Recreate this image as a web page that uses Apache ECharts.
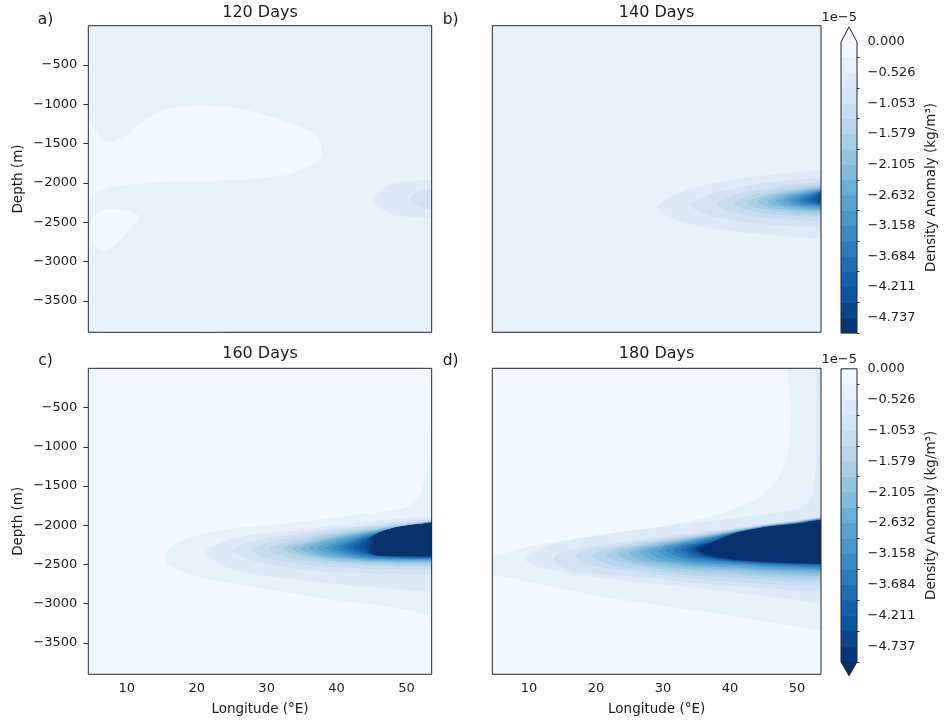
<!DOCTYPE html>
<html><head><meta charset="utf-8">
<script src="https://cdn.jsdelivr.net/npm/echarts@6/dist/echarts.min.js"></script>
<style>html,body{margin:0;padding:0;background:#fff}#c{width:947px;height:721px}</style>
</head><body><div id="c"></div>
<script>
// ---------------- data ----------------
const lonMin = 4.5, lonMax = 53.6, depthMin = -3900, depthMax = 0;
const lonTicks = [10, 20, 30, 40, 50];
const depthTicks = [-3500, -3000, -2500, -2000, -1500, -1000, -500];
const panelTitles = ['120 Days', '140 Days', '160 Days', '180 Days'];
const panelTags = ['a)', 'b)', 'c)', 'd)'];
// contour levels (units 1e-5 kg/m^3)
const levels = [-5.000, -4.737, -4.474, -4.211, -3.947, -3.684, -3.421, -3.158, -2.895, -2.632,
  -2.368, -2.105, -1.842, -1.579, -1.316, -1.053, -0.789, -0.526, -0.263, 0.000];
const cbTickValues = [0.000, -0.526, -1.053, -1.579, -2.105, -2.632, -3.158, -3.684, -4.211, -4.737];
const cbMinorTickValues = [-5.000, -4.474, -3.947, -3.421, -2.895, -2.368, -1.842, -1.316, -0.789, -0.263];
// band k = values between -(k+1)*0.263 and -k*0.263 ; 19 = below -5 ; -1 = above 0
const bandColors = ['#f2f8fd', '#e7f1fa', '#ddeaf7', '#d3e3f3', '#c8ddf0', '#b9d6eb', '#a9cfe5', '#96c6df',
  '#81badb', '#6baed6', '#5aa2cf', '#4996c8', '#3989c2', '#2b7bba', '#1e6eb2', '#1460a8', '#09539d', '#08458a', '#083775'];
const overColor = '#f7fbff', underColor = '#08306b';
const backgroundBand = [1, 1, 0, 0];

const contours120 = [
  {b: 0, ring: [[2,-1220],[4.5,-1220],[5.5,-1330],[6.5,-1440],[7.3,-1475],[8.5,-1450],[10.3,-1370],[12.4,-1210],[15.3,-1075],[19,-1022],[21,-1014],[25.8,-1050],[30.5,-1155],[35,-1290],[37.2,-1420],[37.9,-1580],[37.5,-1700],[36.8,-1750],[34,-1877],[32.5,-1905],[25.4,-1964],[15.8,-1985],[7.7,-2050],[5.5,-2120],[4.5,-2175],[2,-2175]]},
  {b: 0, ring: [[5.0,-2480],[5.8,-2380],[7,-2340],[9,-2340],[10.5,-2365],[11.9,-2430],[11,-2530],[9.5,-2680],[8,-2810],[6.8,-2855],[5.6,-2820],[5.0,-2700]]},
  {b: 0, ring: [[5,-3930],[5.5,-3895],[7,-3878],[12,-3872],[20,-3876],[25,-3895],[26,-3930]]},
  {b: 2, tip: [45.3,-2217], top: [[46.5,-2080],[48,-2010],[50,-1980],[53.6,-1963]], bot: [[46.5,-2340],[48,-2400],[50,-2430],[53.6,-2450]]},
  {b: 3, tip: [50.6,-2200], top: [[51.5,-2120],[53.6,-2070]], bot: [[51.5,-2290],[53.6,-2340]]}
];

const contours140 = [
  {b: 2, tip: [29.1,-2300], top: [[30,-2235],[31.1,-2175],[33.6,-2090],[38.6,-1985],[43.6,-1921],[48,-1875],[51.1,-1855],[53.6,-1836]], bot: [[30,-2380],[31.1,-2450],[33.6,-2515],[36.1,-2556],[41.1,-2620],[46.1,-2662],[50,-2690],[53.6,-2705]]},
  {b: 3, tip: [34.1,-2280], top: [[35.5,-2200],[38,-2120],[42,-2045],[46,-1995],[50,-1960],[53.6,-1940]], bot: [[35.5,-2370],[38,-2440],[42,-2500],[46,-2530],[50,-2550],[53.6,-2560]]},
  {b: 4, tip: [38.1,-2265], top: [[39.5,-2195],[42,-2125],[46,-2060],[50,-2015],[53.6,-1990]], bot: [[39.5,-2345],[42,-2400],[46,-2445],[50,-2470],[53.6,-2480]]},
  {b: 5, tip: [40.6,-2255], top: [[42,-2190],[44,-2140],[47,-2080],[50,-2045],[53.6,-2020]], bot: [[42,-2330],[44,-2370],[47,-2405],[50,-2422],[53.6,-2430]]},
  {b: 6, tip: [42.6,-2245], top: [[44,-2185],[46,-2140],[49,-2090],[53.6,-2040]], bot: [[44,-2315],[46,-2350],[49,-2383],[53.6,-2400]]},
  {b: 7, tip: [44.2,-2240], top: [[45.5,-2180],[47.5,-2135],[50,-2090],[53.6,-2055]], bot: [[45.5,-2305],[47.5,-2335],[50,-2360],[53.6,-2375]]},
  {b: 8, tip: [45.6,-2235], top: [[46.8,-2178],[48.5,-2135],[51,-2095],[53.6,-2065]], bot: [[46.8,-2295],[48.5,-2322],[51,-2343],[53.6,-2355]]},
  {b: 9, tip: [46.8,-2230], top: [[48,-2175],[49.5,-2138],[51.5,-2103],[53.6,-2075]], bot: [[48,-2288],[49.5,-2310],[51.5,-2328],[53.6,-2340]]},
  {b: 10, tip: [47.9,-2225], top: [[49,-2172],[50.5,-2140],[52,-2110],[53.6,-2085]], bot: [[49,-2280],[50.5,-2300],[52,-2314],[53.6,-2325]]},
  {b: 11, tip: [48.8,-2222], top: [[49.8,-2172],[51.2,-2142],[53.6,-2092]], bot: [[49.8,-2272],[51.2,-2290],[53.6,-2310]]},
  {b: 12, tip: [49.7,-2219], top: [[50.6,-2172],[52,-2140],[53.6,-2100]], bot: [[50.6,-2265],[52,-2282],[53.6,-2297]]},
  {b: 13, tip: [50.5,-2216], top: [[51.4,-2170],[52.6,-2140],[53.6,-2108]], bot: [[51.4,-2258],[52.6,-2275],[53.6,-2287]]},
  {b: 14, tip: [51.3,-2213], top: [[52.1,-2170],[53.6,-2116]], bot: [[52.1,-2252],[53.6,-2277]]},
  {b: 15, tip: [52.1,-2210], top: [[52.8,-2172],[53.6,-2125]], bot: [[52.8,-2245],[53.6,-2268]]},
  {b: 16, tip: [52.9,-2207], top: [[53.6,-2135]], bot: [[53.6,-2258]]}
];

const contours160 = [
  {b: 1, ring: [[56,-780],[53.45,-780],[53.25,-1000],[52.95,-1250],[52.4,-1480],[51.6,-1660],[50,-1770],[45,-1840],[40,-1900],[35,-1955],[30,-2000],[25,-2045],[21,-2110],[18,-2190],[16.3,-2280],[15.5,-2400],[16,-2500],[17.5,-2575],[20.5,-2665],[25,-2740],[30,-2820],[35,-2890],[40,-2955],[46,-3020],[51,-3100],[53.6,-3150],[56,-3150]]},
  {b: 2, tip: [21.2,-2350], top: [[22.5,-2260],[25,-2175],[30,-2100],[35,-2060],[40,-2000],[45,-1950],[50,-1910],[53.6,-1890]], bot: [[22.5,-2450],[25,-2560],[30,-2650],[35,-2700],[40,-2750],[45,-2790],[50,-2825],[53.6,-2850]]},
  {b: 3, tip: [25.1,-2320], top: [[27,-2230],[30,-2170],[35,-2100],[40,-2040],[45,-1990],[50,-1945],[53.6,-1920]], bot: [[27,-2420],[30,-2490],[35,-2560],[40,-2600],[45,-2615],[50,-2620],[53.6,-2620]]},
  {b: 4, tip: [27.7,-2310], top: [[30,-2225],[35,-2130],[40,-2065],[45,-2010],[50,-1962],[53.6,-1935]], bot: [[30,-2420],[35,-2495],[40,-2535],[45,-2555],[50,-2563],[53.6,-2565]]},
  {b: 5, tip: [30.3,-2305], top: [[32,-2240],[35,-2175],[40,-2090],[45,-2030],[50,-1975],[53.6,-1945]], bot: [[32,-2385],[35,-2445],[40,-2495],[45,-2518],[50,-2527],[53.6,-2530]]},
  {b: 6, tip: [32.2,-2300], top: [[35,-2215],[40,-2110],[45,-2045],[50,-1985],[53.6,-1950]], bot: [[35,-2400],[40,-2465],[45,-2492],[50,-2502],[53.6,-2505]]},
  {b: 7, tip: [33.6,-2298], top: [[35,-2245],[40,-2130],[45,-2058],[50,-1993],[53.6,-1953]], bot: [[35,-2365],[40,-2445],[45,-2473],[50,-2483],[53.6,-2485]]},
  {b: 8, tip: [34.8,-2296], top: [[37,-2220],[40,-2150],[45,-2070],[50,-2000],[53.6,-1956]], bot: [[37,-2380],[40,-2425],[45,-2458],[50,-2468],[53.6,-2470]]},
  {b: 9, tip: [36,-2294], top: [[38,-2215],[40,-2170],[45,-2080],[50,-2007],[53.6,-1958]], bot: [[38,-2375],[40,-2405],[45,-2446],[50,-2456],[53.6,-2458]]},
  {b: 10, tip: [37.2,-2292], top: [[39,-2220],[42,-2150],[45,-2090],[50,-2014],[53.6,-1960]], bot: [[39,-2365],[42,-2410],[45,-2436],[50,-2446],[53.6,-2448]]},
  {b: 11, tip: [38.4,-2290], top: [[40,-2225],[42,-2170],[45,-2100],[50,-2020],[53.6,-1962]], bot: [[40,-2355],[42,-2395],[45,-2427],[50,-2438],[53.6,-2440]]},
  {b: 12, tip: [39.4,-2288], top: [[41,-2225],[43,-2165],[46,-2095],[50,-2027],[53.6,-1964]], bot: [[41,-2350],[43,-2390],[46,-2420],[50,-2430],[53.6,-2432]]},
  {b: 13, tip: [40.4,-2286], top: [[42,-2215],[44,-2150],[47,-2075],[50,-2028],[53.6,-1966]], bot: [[42,-2350],[44,-2390],[47,-2415],[50,-2423],[53.6,-2425]]},
  {b: 14, tip: [41.4,-2284], top: [[43,-2200],[45,-2135],[47.5,-2065],[50,-2025],[53.6,-1968]], bot: [[43,-2350],[45,-2385],[47.5,-2408],[50,-2416],[53.6,-2418]]},
  {b: 15, tip: [42.3,-2282], top: [[43.8,-2190],[45.5,-2120],[48,-2055],[50,-2020],[53.6,-1970]], bot: [[43.8,-2355],[45.5,-2382],[48,-2402],[50,-2409],[53.6,-2412]]},
  {b: 16, tip: [43.2,-2280], top: [[44.5,-2170],[46,-2100],[48,-2045],[50,-2015],[53.6,-1972]], bot: [[44.5,-2360],[46,-2382],[48,-2398],[50,-2403],[53.6,-2406]]},
  {b: 17, tip: [44,-2280], top: [[45,-2150],[46.5,-2085],[48.5,-2030],[50,-2010],[53.6,-1973]], bot: [[45,-2365],[46.5,-2385],[48.5,-2395],[50,-2398],[53.6,-2400]]},
  {b: 18, tip: [44.7,-2270], top: [[45.2,-2140],[47,-2065],[49,-2020],[53.6,-1974]], bot: [[45.2,-2372],[47,-2388],[49,-2393],[53.6,-2395]]},
  {b: 19, tip: [45.3,-2260], top: [[45.7,-2120],[47.5,-2050],[50,-2005],[53.6,-1975]], bot: [[45.7,-2378],[47.5,-2388],[50,-2391],[53.6,-2393]]}
];

const contours180 = [
  {b: 1, ring: [[56,100],[49.1,100],[49.1,-500],[48.9,-900],[48.3,-1200],[47,-1420],[45,-1600],[43.6,-1680],[38.6,-1850],[31.1,-1995],[21.1,-2125],[11.1,-2253],[4.6,-2400],[2,-2420],[2,-2630],[4.6,-2636],[11.1,-2742],[21.1,-2912],[31.1,-3040],[41.1,-3167],[48,-3260],[53.6,-3337],[56,-3340]]},
  {b: 2, tip: [9.4,-2430], top: [[11.5,-2300],[16,-2190],[26,-2060],[36,-1955],[46,-1850],[51,-1765],[52.3,-1600],[52.85,-1200],[53.05,-600],[53.1,100]], bot: [[10.5,-2510],[16,-2614],[26,-2720],[36,-2806],[46,-2910],[53.6,-2997]]},
  {b: 3, tip: [13.6,-2420], top: [[16,-2320],[26,-2190],[36,-2083],[46,-1976],[50,-1935],[53.6,-1891]], bot: [[16,-2572],[26,-2657],[36,-2742],[46,-2806],[50,-2830],[53.6,-2848]]},
  {b: 4, tip: [17,-2400], top: [[18.5,-2320],[25,-2225],[30,-2168],[35,-2110],[41,-2040],[46,-1982],[50,-1942],[53.6,-1897]], bot: [[18.5,-2490],[25,-2590],[30,-2640],[35,-2685],[41,-2720],[46,-2750],[50,-2765],[53.6,-2775]]},
  {b: 5, tip: [19.5,-2390], top: [[21,-2315],[25,-2250],[30,-2185],[35,-2125],[41,-2048],[46,-1987],[50,-1947],[53.6,-1901]], bot: [[21,-2475],[25,-2545],[30,-2600],[35,-2645],[41,-2670],[46,-2700],[50,-2715],[53.6,-2725]]},
  {b: 6, tip: [21.5,-2380], top: [[23,-2310],[25,-2275],[30,-2200],[35,-2138],[41,-2055],[46,-1991],[50,-1951],[53.6,-1905]], bot: [[23,-2460],[25,-2495],[30,-2565],[35,-2605],[41,-2630],[46,-2660],[50,-2675],[53.6,-2685]]},
  {b: 7, tip: [23.3,-2370], top: [[24.8,-2305],[30,-2215],[35,-2150],[41,-2062],[46,-1995],[50,-1955],[53.6,-1909]], bot: [[24.8,-2450],[30,-2530],[35,-2572],[41,-2595],[46,-2625],[50,-2640],[53.6,-2650]]},
  {b: 8, tip: [25,-2360], top: [[26.5,-2300],[30,-2232],[35,-2160],[41,-2068],[46,-1999],[50,-1959],[53.6,-1912]], bot: [[26.5,-2440],[30,-2495],[35,-2540],[41,-2565],[46,-2595],[50,-2610],[53.6,-2620]]},
  {b: 9, tip: [26.5,-2350], top: [[28,-2290],[30,-2255],[35,-2170],[41,-2074],[46,-2002],[50,-1962],[53.6,-1915]], bot: [[28,-2430],[30,-2465],[35,-2515],[41,-2540],[46,-2568],[50,-2583],[53.6,-2593]]},
  {b: 10, tip: [28,-2340], top: [[29.5,-2280],[35,-2180],[41,-2079],[46,-2005],[50,-1965],[53.6,-1918]], bot: [[29.5,-2420],[35,-2495],[41,-2520],[46,-2547],[50,-2562],[53.6,-2572]]},
  {b: 11, tip: [29.3,-2330], top: [[30.8,-2272],[35,-2192],[41,-2083],[46,-2008],[50,-1968],[53.6,-1921]], bot: [[30.8,-2410],[35,-2475],[41,-2503],[46,-2530],[50,-2545],[53.6,-2555]]},
  {b: 12, tip: [30.5,-2322], top: [[32,-2265],[35,-2205],[41,-2087],[46,-2010],[50,-1971],[53.6,-1924]], bot: [[32,-2400],[35,-2455],[41,-2488],[46,-2515],[50,-2530],[53.6,-2540]]},
  {b: 13, tip: [31.6,-2315], top: [[33,-2260],[35,-2222],[41,-2090],[46,-2012],[50,-1974],[53.6,-1927]], bot: [[33,-2392],[35,-2430],[41,-2476],[46,-2503],[50,-2517],[53.6,-2527]]},
  {b: 14, tip: [32.6,-2310], top: [[34,-2255],[36,-2215],[41,-2093],[46,-2014],[50,-1977],[53.6,-1930]], bot: [[34,-2385],[36,-2420],[41,-2466],[46,-2492],[50,-2506],[53.6,-2515]]},
  {b: 15, tip: [33.5,-2306], top: [[34.8,-2255],[36.5,-2220],[41,-2095],[46,-2016],[50,-1980],[53.6,-1932]], bot: [[34.8,-2380],[36.5,-2415],[41,-2458],[46,-2484],[50,-2497],[53.6,-2505]]},
  {b: 16, tip: [34.2,-2303], top: [[35.4,-2255],[37,-2215],[41,-2097],[46,-2017],[50,-1982],[53.6,-1934]], bot: [[35.4,-2375],[37,-2410],[41,-2451],[46,-2477],[50,-2490],[53.6,-2497]]},
  {b: 17, tip: [34.8,-2301], top: [[35.9,-2255],[37.5,-2210],[41,-2098],[46,-2018],[50,-1983],[53.6,-1935]], bot: [[35.9,-2372],[37.5,-2408],[41,-2446],[46,-2471],[50,-2484],[53.6,-2491]]},
  {b: 18, tip: [35.2,-2300], top: [[36.2,-2255],[38,-2200],[41,-2099],[46,-2019],[50,-1984],[53.6,-1936]], bot: [[36.2,-2370],[38,-2406],[41,-2442],[46,-2467],[50,-2480],[53.6,-2489]]},
  {b: 19, tip: [35.6,-2300], top: [[36.5,-2250],[38.5,-2185],[41,-2100],[46,-2020],[50,-1985],[53.6,-1937]], bot: [[36.5,-2368],[38.5,-2405],[41,-2440],[46,-2465],[50,-2478],[53.6,-2487]]}
];

// ---------------- layout / style ----------------
const FONT = 'DejaVu Sans';
const TXT = '#1a1a1a';
const LINE = '#262626';
const OUT_RIGHT = 56;
const panels = [
  {l: 88.3, t: 25.7, w: 343.4, h: 306.6},
  {l: 492.3, t: 25.7, w: 328.7, h: 306.6},
  {l: 88.3, t: 368.3, w: 343.4, h: 306},
  {l: 492.3, t: 368.3, w: 328.7, h: 306}
];
const tagPos = [[45.5, 20], [450.7, 20], [45.5, 360.5], [450.7, 360.5]];
const colorbars = [
  {l: 841, t: 42, w: 16, h: 291, ext: 'max', offY: 17.7},
  {l: 841, t: 368.8, w: 16, h: 293, ext: 'min', offY: 359.5}
];
const contourSets = [contours120, contours140, contours160, contours180];

function bandColor(b) { return b >= 19 ? underColor : (b < 0 ? overColor : bandColors[b]); }
function ringOf(c) {
  if (c.ring) return c.ring;
  const t = c.top, bt = c.bot;
  return [[OUT_RIGHT, t[t.length - 1][1]], ...t.slice().reverse(), c.tip, ...bt, [OUT_RIGHT, bt[bt.length - 1][1]]];
}
const minus = v => (v < 0 ? '\u2212' : '') + Math.abs(v);

const grid = [], xAxis = [], yAxis = [], series = [], graphic = [];
function txt(x, y, text, size, align, rot) {
  return {type: 'text', x: x, y: y, rotation: rot || 0, silent: true,
    style: {text: text, fontSize: size, fontFamily: FONT, fill: TXT,
      align: align || 'center', verticalAlign: 'middle', textAlign: align || 'center', textVerticalAlign: 'middle'}};
}

panels.forEach((p, i) => {
  const bottomRow = i >= 2, leftCol = i % 2 === 0;
  grid.push({left: p.l, top: p.t, width: p.w, height: p.h, show: true, backgroundColor: 'transparent',
    borderColor: LINE, borderWidth: 1, z: 10});
  xAxis.push({gridIndex: i, type: 'value', min: lonMin, max: lonMax,
    axisLine: {show: false}, splitLine: {show: false},
    axisTick: {show: bottomRow, customValues: lonTicks, length: 5, lineStyle: {color: LINE, width: 1}},
    axisLabel: {show: bottomRow, customValues: lonTicks, margin: 8, color: TXT, fontFamily: FONT, fontSize: 13}});
  yAxis.push({gridIndex: i, type: 'value', min: depthMin, max: depthMax,
    axisLine: {show: false}, splitLine: {show: false},
    axisTick: {show: leftCol, customValues: depthTicks, length: 5, lineStyle: {color: LINE, width: 1}},
    axisLabel: {show: leftCol, customValues: depthTicks, margin: 11, color: TXT, fontFamily: FONT, fontSize: 13,
      formatter: v => minus(v)}});
  series.push({type: 'custom', xAxisIndex: i, yAxisIndex: i, silent: true, z: 1,
    data: [[backgroundBand[i]]],
    renderItem: (params, api) => {
      const a = api.coord([lonMin, depthMax]), b = api.coord([lonMax, depthMin]);
      return {type: 'rect', shape: {x: a[0], y: a[1], width: b[0] - a[0], height: b[1] - a[1]},
        style: {fill: bandColor(backgroundBand[i])}};
    }});
  const set = contourSets[i];
  series.push({type: 'custom', xAxisIndex: i, yAxisIndex: i, silent: true, z: 2,
    data: set.map(c => [c.b]),
    renderItem: (params, api) => {
      const c = set[params.dataIndex];
      const pts = ringOf(c).map(q => api.coord(q));
      const cs = params.coordSys;
      return {type: 'polygon', shape: {points: pts, smooth: 0.3},
        style: {fill: bandColor(c.b)},
        clipPath: {type: 'rect', shape: {x: cs.x, y: cs.y, width: cs.width, height: cs.height}}};
    }});
  graphic.push(txt(p.l + p.w / 2, p.t - (i < 2 ? 13 : 14.5), panelTitles[i], 16));
  graphic.push(txt(tagPos[i][0], tagPos[i][1], panelTags[i], 15.5));
  if (leftCol) graphic.push(txt(18.5, p.t + p.h / 2, 'Depth (m)', 13.5, 'center', Math.PI / 2));
  if (bottomRow) graphic.push(txt(p.l + p.w / 2, 709, 'Longitude (\u00B0E)', 13.5));
});

colorbars.forEach((cb, j) => {
  const gi = 4 + j;
  grid.push({left: cb.l, top: cb.t, width: cb.w, height: cb.h, show: false});
  xAxis.push({gridIndex: gi, type: 'value', min: 0, max: 1, show: false});
  const yMajor = yAxis.length;
  yAxis.push({gridIndex: gi, type: 'value', min: levels[0], max: levels[levels.length - 1], position: 'right',
    axisLine: {show: false}, splitLine: {show: false},
    axisTick: {customValues: cbTickValues, length: 4.5, lineStyle: {color: LINE, width: 1}},
    axisLabel: {customValues: cbTickValues, margin: 10.5, color: TXT, fontFamily: FONT, fontSize: 13,
      formatter: v => (v < 0 ? '\u2212' : '') + Math.abs(v).toFixed(3)}});
  yAxis.push({gridIndex: gi, type: 'value', min: levels[0], max: levels[levels.length - 1], position: 'right',
    axisLine: {show: false}, splitLine: {show: false},
    axisTick: {customValues: cbMinorTickValues, length: 2.5, lineStyle: {color: LINE, width: 1}},
    axisLabel: {show: false}});
  series.push({type: 'custom', xAxisIndex: gi, yAxisIndex: yMajor, silent: true, z: 2,
    data: levels.slice(0, -1).map((v, k) => [0.5, v]),
    renderItem: (params, api) => {
      const k = params.dataIndex;
      const a = api.coord([0, levels[k + 1]]), b = api.coord([1, levels[k]]);
      return {type: 'rect', shape: {x: a[0], y: a[1] - 0.3, width: b[0] - a[0], height: b[1] - a[1] + 0.6},
        style: {fill: bandColor(18 - k)}};
    }});
  const lo = levels[0], hi = levels[levels.length - 1];
  series.push({type: 'custom', xAxisIndex: gi, yAxisIndex: yMajor, silent: true, z: 3,
    data: [[0.5, cb.ext === 'max' ? hi : lo]],
    renderItem: (params, api) => {
      let tri, outline, fill;
      if (cb.ext === 'max') {
        tri = [[0, hi], [1, hi], [0.5, hi + 0.26]];
        outline = [[0, lo], [1, lo], [1, hi], [0.5, hi + 0.26], [0, hi], [0, lo]];
        fill = overColor;
      } else {
        tri = [[0, lo], [1, lo], [0.5, lo - 0.24]];
        outline = [[0, hi], [1, hi], [1, lo], [0.5, lo - 0.24], [0, lo], [0, hi]];
        fill = underColor;
      }
      return {type: 'group', children: [
        {type: 'polygon', shape: {points: tri.map(q => api.coord(q))}, style: {fill: fill}},
        {type: 'polyline', shape: {points: outline.map(q => api.coord(q))}, style: {fill: null, stroke: LINE, lineWidth: 1}}
      ]};
    }});
  graphic.push(txt(931, cb.t + cb.h / 2, 'Density Anomaly (kg/m\u00B3)', 13.5, 'center', Math.PI / 2));
  graphic.push(txt(857, cb.offY, '1e\u22125', 13, 'right'));
});

const chart = echarts.init(document.getElementById('c'), null, {renderer: 'canvas', width: 947, height: 721});
chart.setOption({animation: false, backgroundColor: '#ffffff', grid, xAxis, yAxis, series,
  graphic: {elements: graphic}});
</script>
</body></html>
